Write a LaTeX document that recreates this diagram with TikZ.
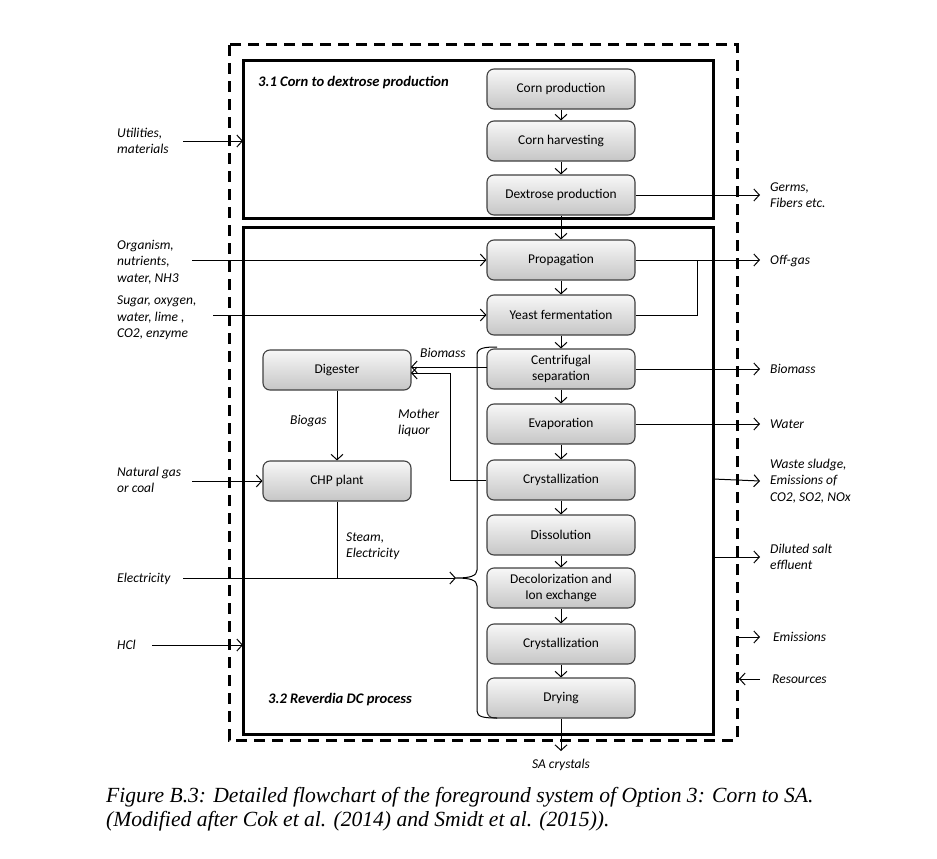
\documentclass[tikz,border=0pt]{standalone}
\usepackage{fontspec}
\setmainfont{Carlito}
\newfontfamily\capfont{Liberation Serif}
\usetikzlibrary{arrows.meta}
\begin{document}
\begin{tikzpicture}[x=1pt,y=-1pt,
 proc/.style={draw=black!75, line width=1.1pt, rounded corners=7pt, top color=gray!6, bottom color=gray!45, minimum width=148pt, minimum height=40pt, inner sep=1pt, font=\fontsize{13.4}{16.5}\selectfont, align=center},
 lab/.style={font=\fontsize{13.5}{16.5}\selectfont\itshape, align=left, anchor=west, inner sep=0pt},
 head/.style={lab, font=\fontsize{14.6}{17}\selectfont\bfseries\itshape},
 flow/.style={line width=1pt, -{Straight Barb[length=5.5pt,width=12pt]}},
 plain/.style={line width=1pt},
 frame/.style={line width=3pt}]
\useasboundingbox (0,0) rectangle (937,859);

% frames
\draw[frame, dash pattern=on 11pt off 7pt] (229,45) rectangle (737,740);
\draw[frame] (243,61) rectangle (713,218);
\draw[frame] (243,227) rectangle (713,734);

\node[head] (t31) at (258,83) {3.1 Corn to dextrose production};
\node[head] (t32) at (268,700) {3.2 Reverdia DC process};

% process nodes
\node[proc] (cp)  at (561,89)  {Corn production};
\node[proc] (ch)  at (561,141) {Corn harvesting};
\node[proc] (dp)  at (561,195) {Dextrose production};
\node[proc] (pr)  at (561,260) {Propagation};
\node[proc] (yf)  at (561,315) {Yeast fermentation};
\node[proc] (cs)  at (561,369) {Centrifugal\\separation};
\node[proc] (ev)  at (561,424) {Evaporation};
\node[proc] (cr1) at (561,480) {Crystallization};
\node[proc] (ds)  at (561,535) {Dissolution};
\node[proc] (dc)  at (561,588) {Decolorization and\\Ion exchange};
\node[proc] (cr2) at (561,644) {Crystallization};
\node[proc] (dr)  at (561,698) {Drying};
\node[proc] (dig) at (337,370) {Digester};
\node[proc] (chp) at (337,481) {CHP plant};

% main chain
\draw[flow] (cp) -- (ch);
\draw[flow] (ch) -- (dp);
\draw[flow] (dp) -- (pr);
\draw[flow] (pr) -- (yf);
\draw[flow] (yf) -- (cs);
\draw[flow] (cs) -- (ev);
\draw[flow] (ev) -- (cr1);
\draw[flow] (cr1) -- (ds);
\draw[flow] (ds) -- (dc);
\draw[flow] (dc) -- (cr2);
\draw[flow] (cr2) -- (dr);
\coordinate (sa) at (561,751);
\draw[flow] (dr) -- (sa);
\node[lab, anchor=center] (satext) at (561,765) {SA crystals};

% side processes
\draw[flow] (dig) -- (chp);
\node[lab] (biogas) at (290,421) {Biogas};
\coordinate (bmA) at (487,367);
\coordinate (bmB) at (411,367);
\draw[flow] (bmA) -- (bmB);
\node[lab] (bmtext) at (420,353) {Biomass};
\coordinate (mlB) at (411,373);
\draw[flow] (cr1.west) -- (450,480) -- (450,373) -- (mlB);
\node[lab] (mltext) at (398,423) {Mother\\liquor};

% inputs
\coordinate (uA) at (183,141); \coordinate (uB) at (243,141);
\draw[flow] (uA) -- (uB);
\node[lab] (ut) at (117,141) {Utilities,\\materials};
\coordinate (oA) at (192,260);
\draw[flow] (oA) -- (pr.west);
\node[lab] (ot) at (117,262) {Organism,\\nutrients,\\water, NH3};
\coordinate (sA) at (213,315);
\draw[flow] (sA) -- (yf.west);
\node[lab] (st) at (117,318) {Sugar, oxygen,\\water, lime ,\\CO2, enzyme};
\coordinate (nA) at (192,481);
\draw[flow] (nA) -- (chp.west);
\node[lab] (nt) at (117,480) {Natural gas\\or coal};
\coordinate (eA) at (183,578); \coordinate (eB) at (456,578);
\draw[flow] (eA) -- (eB);
\node[lab] (et) at (117,579) {Electricity};
\coordinate (hA) at (152,645); \coordinate (hB) at (243,645);
\draw[flow] (hA) -- (hB);
\node[lab] (ht) at (117,645) {HCl};
\draw[plain] (chp.south) -- (337,578);
\node[lab] (steam) at (346,546) {Steam,\\Electricity};

% brace
\draw[plain] (497,347) .. controls (484,347) and (477,348) .. (477,355) -- (477,570) .. controls (477,576) and (470,578) .. (456,578) .. controls (470,578) and (477,580) .. (477,586) -- (477,711) .. controls (477,717) and (484,718) .. (497,718);

% outputs
\coordinate (gB) at (760,195);
\draw[flow] (dp.east) -- (gB);
\node[lab] (gt) at (770,195) {Germs,\\Fibers etc.};
\coordinate (ogB) at (760,260);
\draw[flow] (pr.east) -- (ogB);
\draw[plain] (yf.east) -- (697,315) -- (697,260);
\node[lab] (ogt) at (770,261) {Off-gas};
\coordinate (bB) at (760,369);
\draw[flow] (cs.east) -- (bB);
\node[lab] (bt) at (770,369) {Biomass};
\coordinate (wB) at (760,424);
\draw[flow] (ev.east) -- (wB);
\node[lab] (wt) at (770,424) {Water};
\coordinate (wsA) at (713,479); \coordinate (wsB) at (760,481);
\draw[flow] (wsA) -- (wsB);
\node[lab] (wst) at (770,481) {Waste sludge,\\Emissions of\\CO2, SO2, NOx};
\coordinate (dsA) at (713,557); \coordinate (dsB) at (760,557);
\draw[flow] (dsA) -- (dsB);
\node[lab] (dst) at (770,557) {Diluted salt\\effluent};

% legend
\coordinate (emA) at (737,637); \coordinate (emB) at (760,637);
\draw[flow] (emA) -- (emB);
\node[lab] (emt) at (773,637) {Emissions};
\coordinate (reA) at (760,679); \coordinate (reB) at (739,679);
\draw[flow] (reA) -- (reB);
\node[lab] (ret) at (772,679) {Resources};

% caption
\node[anchor=west, inner sep=0pt, align=left, font=\capfont\fontsize{21.6}{23.5}\selectfont\itshape] (cap) at (106,809)
 {Figure B.3: Detailed flowchart of the foreground system of Option 3: Corn to SA.\\(Modified after Cok et al. (2014) and Smidt et al. (2015)).};
\end{tikzpicture}
\end{document}
